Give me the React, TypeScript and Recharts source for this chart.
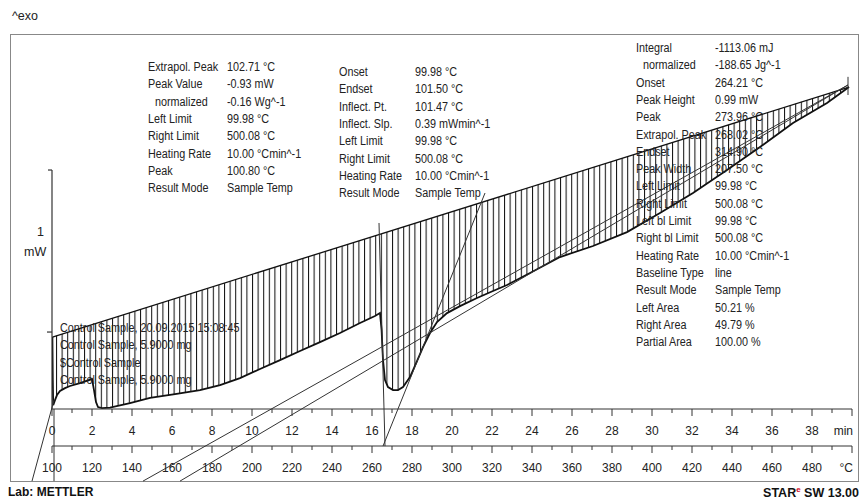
import { ComposedChart, Area, Line, XAxis, YAxis, ReferenceLine } from "recharts";

// measured DSC curve (time in min, heat flow in mW)
const curveMin = [0.02, 0.04, 0.06, 0.15, 0.25, 0.4, 0.65, 0.9, 1.4, 2.0, 2.1, 2.2, 2.3, 2.5, 2.9, 3.9, 4.9, 6.15, 7.4, 8.4, 9.4, 10.4, 11.4, 12.4, 13.4, 14.4, 15.4, 16.15, 16.4, 16.48, 16.55, 16.65, 16.8, 17.05, 17.3, 17.55, 17.9, 18.25, 18.55, 18.9, 19.25, 19.75, 20.4, 21.25, 22.05, 22.75, 23.9, 25.4, 27.05, 28.75, 30.4, 32.05, 33.75, 35.4, 37.05, 38.75, 39.85];
const curveMw = [-0.031, -0.296, -0.451, -0.42, -0.389, -0.364, -0.346, -0.333, -0.315, -0.29, -0.358, -0.432, -0.463, -0.469, -0.466, -0.438, -0.407, -0.383, -0.358, -0.327, -0.284, -0.228, -0.173, -0.117, -0.062, -0.006, 0.056, 0.099, 0.117, 0.012, -0.173, -0.296, -0.34, -0.358, -0.358, -0.34, -0.278, -0.179, -0.093, -0.006, 0.062, 0.117, 0.16, 0.21, 0.253, 0.29, 0.364, 0.463, 0.531, 0.617, 0.735, 0.858, 1.0, 1.142, 1.29, 1.414, 1.512];

// straight integration baseline (left limit -> right limit)
const baseMin = [0.02, 39.85];
const baseMw = [-0.031, 1.512];
// same limits on the sample temperature scale
const limitC = [99.98, 500.08];

// evaluation construction lines: [min1, mW1, min2, mW2]
const constructionLines = [
  [16.35, 0.673, 16.65, -0.704],
  [21.65, 0.858, 16.55, -0.704],
  [39.8, 1.525, 4.55, -0.92],
  [39.8, 1.525, 6.4, -0.92],
  [-1.0, -0.92, 0.1, -0.42],
  [0.1, -0.475, 0.1, -0.92],
  [39.8, 1.575, 39.8, 1.463],
];

// 1 mW scale bar
const scaleBar = [
  [0, 1, 0, -0.475],
  [-0.2, 1, 0, 1],
  [-0.25, 0, 0, 0],
];

const timeTicks = [0, 1, 2, 3, 4, 5, 6, 7, 8, 9, 10, 11, 12, 13, 14, 15, 16, 17, 18, 19, 20, 21, 22, 23, 24, 25, 26, 27, 28, 29, 30, 31, 32, 33, 34, 35, 36, 37, 38, 39, 40];
const tempTicks = [100, 110, 120, 130, 140, 150, 160, 170, 180, 190, 200, 210, 220, 230, 240, 250, 260, 270, 280, 290, 300, 310, 320, 330, 340, 350, 360, 370, 380, 390, 400, 410, 420, 430, 440, 450, 460, 470, 480, 490, 500];

const leftLabels = ["Extrapol. Peak", "Peak Value", "  normalized", "Left Limit", "Right Limit", "Heating Rate", "Peak", "Result Mode"];
const leftValues = ["102.71 °C", "-0.93 mW", "-0.16 Wg^-1", "99.98 °C", "500.08 °C", "10.00 °Cmin^-1", "100.80 °C", "Sample Temp"];
const midLabels = ["Onset", "Endset", "Inflect. Pt.", "Inflect. Slp.", "Left Limit", "Right Limit", "Heating Rate", "Result Mode"];
const midValues = ["99.98 °C", "101.50 °C", "101.47 °C", "0.39 mWmin^-1", "99.98 °C", "500.08 °C", "10.00 °Cmin^-1", "Sample Temp"];
const rightLabels = ["Integral", "  normalized", "Onset", "Peak Height", "Peak", "Extrapol. Peak", "Endset", "Peak Width", "Left Limit", "Right Limit", "Left bl Limit", "Right bl Limit", "Heating Rate", "Baseline Type", "Result Mode", "Left Area", "Right Area", "Partial Area"];
const rightValues = ["-1113.06 mJ", "-188.65 Jg^-1", "264.21 °C", "0.99 mW", "273.96 °C", "268.02 °C", "314.90 °C", "207.50 °C", "99.98 °C", "500.08 °C", "99.98 °C", "500.08 °C", "10.00 °Cmin^-1", "line", "Sample Temp", "50.21 %", "49.79 %", "100.00 %"];
const sampleLines = ["Control Sample, 20.09.2015 15:08:45", "Control Sample, 5.9000 mg", "$Control Sample", "Control Sample, 5.9000 mg"];

const curve = curveMin.map((t, i) => ({ t, v: curveMw[i] }));
const baseline = baseMin.map((t, i) => ({ t, v: baseMw[i] }));
const baselineC = limitC.map((c, i) => ({ c, v: baseMw[i] }));

const FONT = "'Liberation Sans', Arial, sans-serif";
const INK = "#222";
const ROW = 17.3;

function makeTick(unitAt: number, unit: string, majorStep: number) {
  return (props: any) => {
    const { x, y, payload } = props;
    const val = payload.value;
    const major = val % majorStep === 0;
    return (
      <g>
        <line x1={x} x2={x} y1={y} y2={y + (major ? 7 : 4)} stroke="#333" strokeWidth={1} />
        {major && (
          <text
            x={val === unitAt ? x + 1 : x}
            y={y + 26}
            textAnchor={val === unitAt ? "end" : "middle"}
            fontFamily={FONT}
            fontSize={12}
            fill={INK}
          >
            {val === unitAt ? unit : val}
          </text>
        )}
      </g>
    );
  };
}

// narrow, tall text like the instrument's Tahoma
const narrow = { transform: "scaleX(0.9)", transformOrigin: "left center", lineHeight: "14px", whiteSpace: "nowrap" as const };

function Block({ labels, values, left, valueLeft, top }: { labels: string[]; values: string[]; left: number; valueLeft: number; top: number }) {
  return (
    <>
      {labels.map((l, i) => (
        <div key={i}>
          <div style={{ position: "absolute", left: left + (l.startsWith("  ") ? 7 : 0), top: top + i * ROW - 7, ...narrow }}>{l.trim()}</div>
          <div style={{ position: "absolute", left: valueLeft, top: top + i * ROW - 7, ...narrow }}>{values[i]}</div>
        </div>
      ))}
    </>
  );
}

export default function App() {
  return (
    <div style={{ position: "absolute", left: 0, top: 0, width: 861, height: 504, background: "#fff", overflow: "hidden", fontFamily: FONT, fontSize: 12, color: INK }}>
      <div style={{ position: "absolute", left: 10, top: 34, width: 847, height: 446, border: "1.5px solid #888" }} />
      <div style={{ position: "absolute", left: 0, top: 0 }}>
        <ComposedChart width={861} height={504} margin={{ top: 40.4, right: 9, bottom: 23, left: 52 }}>
          <defs>
            <pattern id="hatch" patternUnits="userSpaceOnUse" width={5.6} height={8}>
              <line x1={0.5} y1={0} x2={0.5} y2={8} stroke="#111" strokeWidth={1.05} />
            </pattern>
          </defs>
          <XAxis xAxisId="a" dataKey="t" type="number" domain={[0, 40]} allowDataOverflow ticks={timeTicks} interval={0} height={37} tickSize={0} tickMargin={0} tickLine={false} axisLine={{ stroke: "#333" }} tick={makeTick(40, "min", 2)} />
          <XAxis xAxisId="b" dataKey="c" type="number" domain={[100, 500]} allowDataOverflow ticks={tempTicks} interval={0} height={35} tickSize={0} tickMargin={0} tickLine={false} axisLine={{ stroke: "#333" }} tick={makeTick(500, "°C", 20)} />
          <YAxis type="number" domain={[-0.475, 1.8]} allowDataOverflow hide />
          <Line xAxisId="b" data={baselineC} dataKey="v" type="linear" stroke="none" dot={false} activeDot={false} isAnimationActive={false} />
          <Area xAxisId="a" data={baseline} dataKey="v" type="linear" baseValue={-0.475} stroke="#111" strokeWidth={1.3} fill="url(#hatch)" fillOpacity={1} dot={false} activeDot={false} isAnimationActive={false} />
          <Area xAxisId="a" data={curve} dataKey="v" type="linear" baseValue={-0.475} stroke="#111" strokeWidth={1.8} fill="#fff" fillOpacity={1} dot={false} activeDot={false} isAnimationActive={false} />
          {constructionLines.map((s, i) => (
            <ReferenceLine key={"c" + i} xAxisId="a" segment={[{ x: s[0], y: s[1] }, { x: s[2], y: s[3] }]} stroke="#333" strokeWidth={1} ifOverflow="visible" />
          ))}
          {scaleBar.map((s, i) => (
            <ReferenceLine key={"s" + i} xAxisId="a" segment={[{ x: s[0], y: s[1] }, { x: s[2], y: s[3] }]} stroke="#333" strokeWidth={1.2} ifOverflow="visible" />
          ))}
        </ComposedChart>
      </div>
      <div style={{ position: "absolute", left: 12, top: 9, fontSize: 12.5 }}>^exo</div>
      <div style={{ position: "absolute", left: 37, top: 225, fontSize: 12.5 }}>1</div>
      <div style={{ position: "absolute", left: 24, top: 245, fontSize: 12.5 }}>mW</div>
      <Block labels={leftLabels} values={leftValues} left={148} valueLeft={227} top={67} />
      <Block labels={midLabels} values={midValues} left={339} valueLeft={415} top={72} />
      <Block labels={rightLabels} values={rightValues} left={636} valueLeft={715} top={48} />
      {sampleLines.map((s, i) => (
        <div key={i} style={{ position: "absolute", left: 60, top: 328 + i * ROW - 7, ...narrow }}>{s}</div>
      ))}
      <div style={{ position: "absolute", left: 8, top: 485, fontSize: 12, fontWeight: "bold", color: "#111" }}>Lab: METTLER</div>
      <div style={{ position: "absolute", right: 2, top: 485, fontSize: 12.5, fontWeight: "bold", color: "#111", whiteSpace: "nowrap" }}>
        STAR<span style={{ color: "#d0021b", fontSize: 8, verticalAlign: "super" }}>e</span> SW 13.00
      </div>
    </div>
  );
}
